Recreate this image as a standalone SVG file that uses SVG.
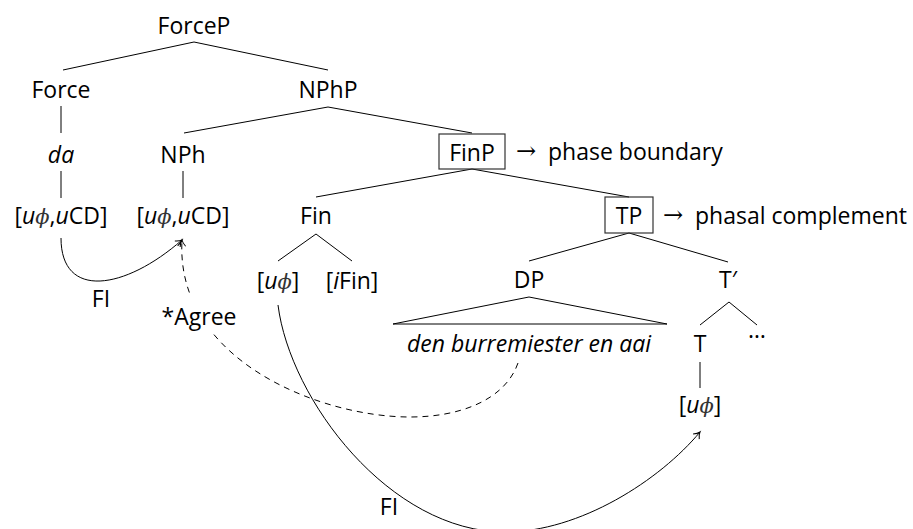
<svg xmlns="http://www.w3.org/2000/svg" width="913" height="529" viewBox="0 0 913 529">
  <style>
    text { font-family: "Open Sans", "DejaVu Sans", sans-serif; font-size: 23px; fill: #000; }
    .c { text-anchor: middle; }
    .it { font-style: italic; }
    .phi { font-family: "DejaVu Serif", serif; font-style: italic; font-size: 21px; fill: #333; }
    .arr { font-family: "DejaVu Serif", serif; font-size: 24px; }
    .edge { stroke: #000; stroke-width: 1; fill: none; }
    .box { stroke: #333; stroke-width: 1.2; fill: none; }
    .link { stroke: #000; stroke-width: 1; fill: none; marker-end: url(#tip); }
    .dash { stroke-dasharray: 6 5; }
  </style>
  <defs>
    <marker id="tip" markerUnits="userSpaceOnUse" markerWidth="12" markerHeight="12" viewBox="-8 -6 10 12" refX="0" refY="0" orient="auto">
      <path d="M-6,-4 C-3.5,-1.5 -1.5,-0.4 0,0 C-1.5,0.4 -3.5,1.5 -6,4" stroke="#000" stroke-width="1" fill="none"/>
    </marker>
  </defs>

  <!-- tree branches -->
  <g id="branches">
    <path class="edge" d="M194,42 L63,70 M194,42 L328,70"/>
    <path class="edge" d="M61,106 L61,133 M61,171 L61,198"/>
    <path class="edge" d="M328,107 L184,133 M328,107 L472,133"/>
    <path class="edge" d="M183,171 L183,198"/>
    <path class="edge" d="M472,169 L316,197 M472,169 L629,197"/>
    <path class="edge" d="M316,234 L278,261 M316,234 L352,261"/>
    <path class="edge" d="M629,233 L529,261 M629,233 L728,262"/>
    <path class="edge" d="M393,324 L529,297 L667,324 Z"/>
    <path class="edge" d="M729,302 L700,325 M729,302 L757,325"/>
    <path class="edge" d="M700,362 L700,388"/>
  </g>

  <!-- nodes -->
  <g id="forcep"><text class="c" x="194" y="34">ForceP</text></g>
  <g id="force"><text class="c" x="61" y="98">Force</text></g>
  <g id="nphp"><text class="c" x="328" y="98">NPhP</text></g>
  <g id="da"><text class="c it" x="61" y="163">da</text></g>
  <g id="nph"><text class="c" x="183" y="163">NPh</text></g>
  <g id="force-feat"><text class="c" x="61" y="224">[<tspan class="it">u</tspan><tspan class="phi">ϕ</tspan>,<tspan class="it">u</tspan>CD]</text></g>
  <g id="nph-feat"><text class="c" x="183" y="224">[<tspan class="it">u</tspan><tspan class="phi">ϕ</tspan>,<tspan class="it">u</tspan>CD]</text></g>
  <g id="finp">
    <rect class="box" x="439" y="134" width="66" height="35"/>
    <text class="c" x="472" y="161">FinP</text>
    <text x="516" y="159"><tspan class="arr">→</tspan><tspan x="548" y="160">phase boundary</tspan></text>
  </g>
  <g id="fin"><text class="c" x="316" y="224">Fin</text></g>
  <g id="tp">
    <rect class="box" x="605" y="197" width="48" height="36"/>
    <text class="c" x="629" y="224">TP</text>
    <text x="663" y="223"><tspan class="arr">→</tspan><tspan x="695" y="224">phasal complement</tspan></text>
  </g>
  <g id="fin-uphi"><text class="c" x="278" y="289">[<tspan class="it">u</tspan><tspan class="phi">ϕ</tspan>]</text></g>
  <g id="fin-ifin"><text class="c" x="352" y="289">[<tspan class="it">i</tspan>Fin]</text></g>
  <g id="dp"><text class="c" x="529" y="288">DP</text></g>
  <g id="tbar"><text class="c" x="728" y="288">T′</text></g>
  <g id="dp-words"><text class="c it" x="529" y="352">den burremiester en aai</text></g>
  <g id="t"><text class="c" x="700" y="352">T</text></g>
  <g id="rest"><text class="c" x="757" y="338">…</text></g>
  <g id="t-uphi"><text class="c" x="700" y="413">[<tspan class="it">u</tspan><tspan class="phi">ϕ</tspan>]</text></g>

  <!-- feature-inheritance and agreement arrows -->
  <g id="connectors">
    <path class="link" d="M61,238 C61,300 125,290 182,240"/>
    <path class="link" d="M278,305 C290,400 390,532 505,532 C580,532 660,480 700,432"/>
    <path class="link dash" d="M518,363 C505,400 460,417 410,417 C320,417 175,360 182,240"/>
  </g>

  <!-- arrow labels -->
  <g id="labels">
    <text class="c" x="101" y="307">FI</text>
    <rect x="157" y="297" width="84" height="37" fill="#fff"/>
    <text class="c" x="199" y="325">*Agree</text>
    <text class="c" x="389" y="515">FI</text>
  </g>
</svg>
